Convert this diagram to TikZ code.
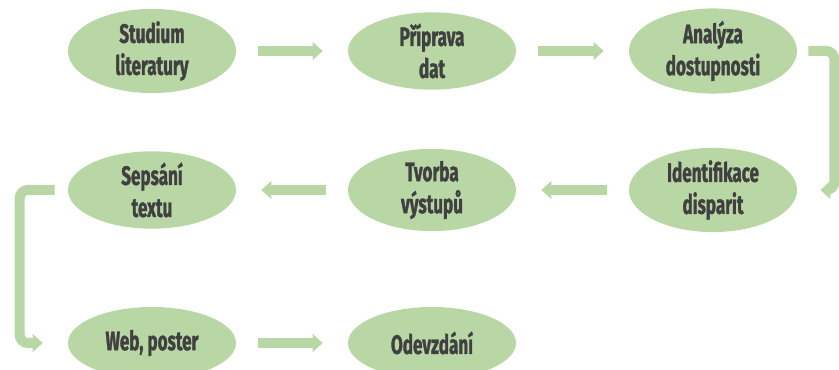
\documentclass[tikz,border=0pt]{standalone}
\usepackage{fontspec}
\newfontfamily\boxfont{Fira Sans}[FakeStretch=0.64,FakeBold=1.2]
\usetikzlibrary{shapes.geometric,arrows.meta}
\definecolor{leafgreen}{RGB}{185,215,165}
\definecolor{inkgray}{RGB}{64,64,64}

\begin{document}
\begin{tikzpicture}[x=0.75pt,y=-0.75pt,
  main node/.style={ellipse,fill=leafgreen,minimum width=126pt,minimum height=54pt,inner sep=0pt,
    align=center,text=inkgray,font=\boxfont\fontsize{20}{24}\selectfont\bfseries},
  green arrow/.style={draw=leafgreen,line width=7.5pt,-{Triangle[width=13pt,length=7.5pt]}},
  flow/.style={green arrow,shorten <=16.5pt,shorten >=18.75pt},
  loop/.style={green arrow,rounded corners=6pt}]

  \useasboundingbox (0,0) rectangle (839,370);

  \node[main node] (1) at (152,51) {Studium\\literatury};
  \node[main node] (2) at (432,51) {Příprava\\dat};
  \node[main node] (3) at (713,51) {Analýza\\dostupnosti};
  \node[main node] (4) at (713,190) {Identifikace\\disparit};
  \node[main node] (5) at (432,190) {Tvorba\\výstupů};
  \node[main node] (6) at (152,190) {Sepsání\\textu};
  \node[main node] (7) at (152,343) {Web, poster};
  \node[main node] (8) at (432,343) {Odevzdání};

  \draw[flow] (1) -- (2);
  \draw[flow] (2) -- (3);
  \draw[loop] ([xshift=8.25pt]3.east) -| ([xshift=27.75pt]4.east) -- ([xshift=17.25pt]4.east);
  \draw[flow] (4) -- (5);
  \draw[flow] (5) -- (6);
  \draw[loop] ([xshift=-9.75pt]6.west) -| ([xshift=-36pt]7.west) -- ([xshift=-18.75pt]7.west);
  \draw[flow] (7) -- (8);

\end{tikzpicture}
\end{document}
